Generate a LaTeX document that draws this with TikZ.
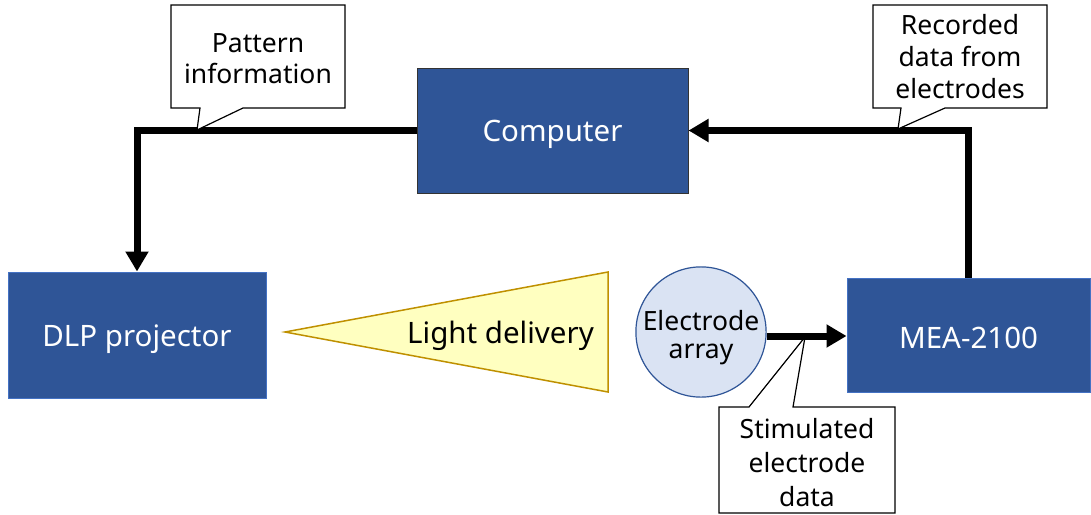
\documentclass[tikz,border=0pt]{standalone}
\usepackage{fontspec}
\setmainfont{Noto Sans}
\usetikzlibrary{arrows.meta}
\definecolor{boxblue}{HTML}{2F5597}
\definecolor{edgeblue}{HTML}{4472C4}
\definecolor{lightblue}{HTML}{DAE3F3}
\definecolor{lightyellow}{HTML}{FFFFC0}
\definecolor{gold}{HTML}{BF9000}
\newcommand{\lowered}[2]{\raisebox{-#1}[\height][\depth]{#2}}
\tikzset{
  bluebox/.style={fill=boxblue, draw=edgeblue, line width=1pt, text=white,
    font=\fontsize{29.5}{34}\selectfont, inner sep=0pt},
  flow/.style={line width=7pt, -{Triangle[length=20pt,width=22pt]}},
  callout/.style={fill=white, draw=black, line width=1.2pt, line join=miter},
  calltext/.style={font=\fontsize{26.5}{31}\selectfont, align=center, inner sep=0pt},
}
\begin{document}
\begin{tikzpicture}[x=1pt,y=-1pt]
\useasboundingbox (0,0) rectangle (1091,514);
% boxes
\node[bluebox, draw=black!80, minimum width=271pt, minimum height=125pt] (comp) at (552.5,130.5) {\lowered{4pt}{Computer}};
\node[bluebox, minimum width=258pt, minimum height=126pt] (dlp) at (137,335) {\lowered{4pt}{DLP projector}};
\node[bluebox, minimum width=243pt, minimum height=114pt] (mea) at (968.5,335) {\lowered{3pt}{MEA-2100}};
% light delivery triangle
\draw[fill=lightyellow, draw=gold, line width=1.5pt, line join=miter] (285,332) -- (608,272) -- (608,392) -- cycle;
\node[anchor=east, font=\fontsize{29.5}{34}\selectfont, inner sep=0pt] (light) at (594,336) {Light delivery};
% electrode array
\node[circle, fill=lightblue, draw=boxblue, line width=1.2pt, minimum size=123pt, inner sep=0pt,
  font=\fontsize{26.5}{31}\selectfont] (elec) at (701,332) {\lowered{6pt}{\begin{tabular}{@{}c@{}}Electrode\\[-3pt]array\end{tabular}}};
% connectors
\draw[flow] (comp.west) -| (dlp.north);
\draw[flow] (mea.north) |- (comp.east);
\draw[flow] (elec.east |- 0,336) coordinate (es) -- (es -| mea.west);
% callouts
\draw[callout] (171,5) -- (345,5) -- (345,108) -- (243,108) -- (197,130) -- (200,108) -- (171,108) -- cycle;
\node[calltext] (pat) at (258,59) {Pattern\\information};
\draw[callout] (873,5) -- (1047,5) -- (1047,108) -- (945,108) -- (898,129) -- (901,108) -- (873,108) -- cycle;
\node[calltext, font=\fontsize{26.5}{32}\selectfont] (rec) at (960,57) {Recorded\\data from\\electrodes};
\draw[callout] (719,407) -- (749,407) -- (805,337) -- (793,407) -- (895,407) -- (895,513) -- (719,513) -- cycle;
\node[calltext, font=\fontsize{26.5}{34}\selectfont] (stim) at (807,463) {Stimulated\\electrode\\data};
\end{tikzpicture}
\end{document}
